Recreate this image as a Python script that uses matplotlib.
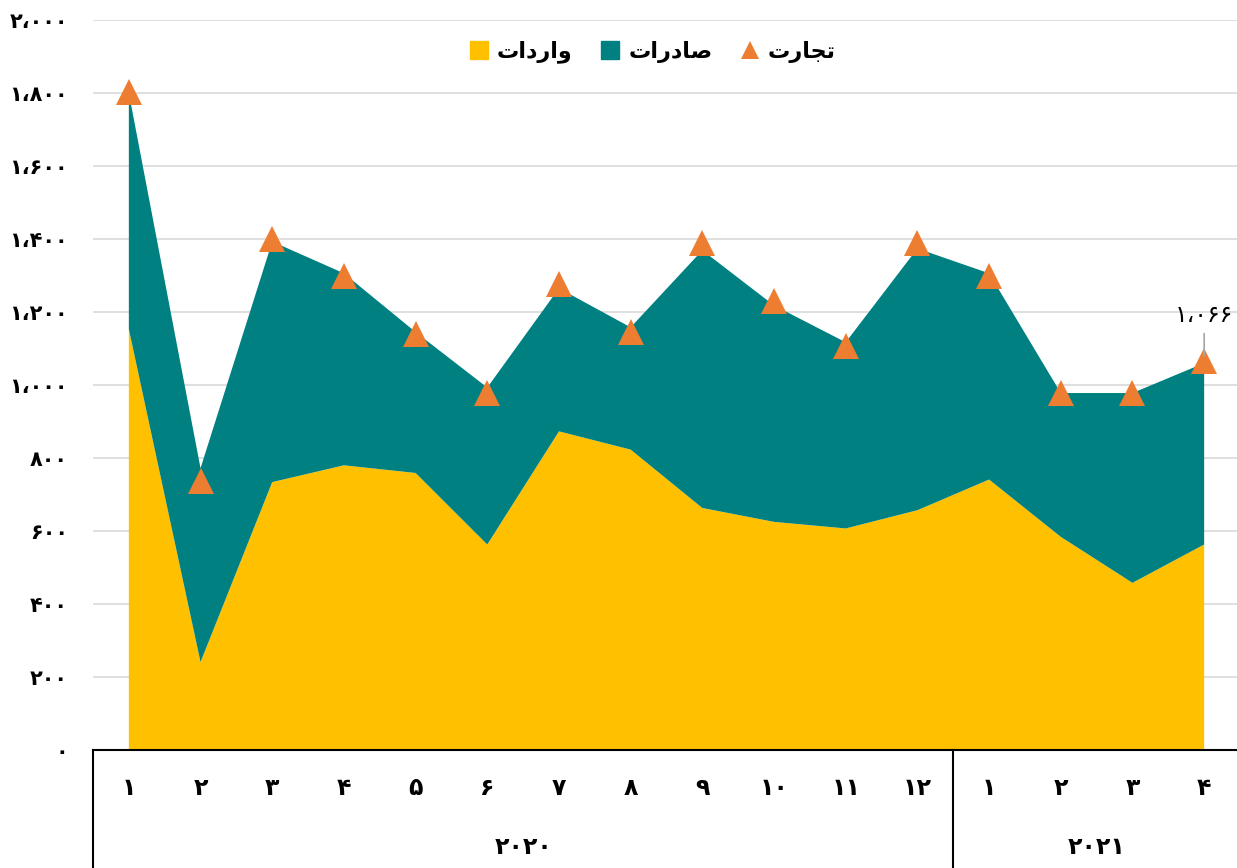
import matplotlib
matplotlib.use("Agg")
import matplotlib.pyplot as plt
from matplotlib.lines import Line2D
import numpy as np

# month numbers (Persian digits) and year groups
months = ["۱", "۲", "۳", "۴", "۵", "۶", "۷", "۸", "۹", "۱۰", "۱۱", "۱۲",
          "۱", "۲", "۳", "۴"]
years = ["۲۰۲۰", "۲۰۲۱"]
year_sizes = [12, 4]

# values
imports = [1153, 241, 734, 780, 759, 563, 873, 823, 663, 625, 607, 657,
           741, 584, 458, 563]
stack_top = [1800, 772, 1393, 1306, 1145, 993, 1265, 1158, 1369, 1218, 1117, 1374,
             1306, 978, 978, 1060]
exports = [t - i for t, i in zip(stack_top, imports)]
trade = [1804, 736, 1400, 1299, 1139, 978, 1278, 1146, 1389, 1229, 1106, 1389,
         1298, 978, 978, 1066]

yticks = [0, 200, 400, 600, 800, 1000, 1200, 1400, 1600, 1800, 2000]
ytick_labels = ["۰", "۲۰۰", "۴۰۰", "۶۰۰", "۸۰۰", "۱،۰۰۰", "۱،۲۰۰", "۱،۴۰۰",
                "۱،۶۰۰", "۱،۸۰۰", "۲،۰۰۰"]
last_label = "۱،۰۶۶"

# legend names, written in visual order (presentation forms, since matplotlib does no shaping)
name_imports = "ﺕﺍﺩﺭﺍﻭ"   # واردات
name_exports = "ﺕﺍﺭﺩﺎﺻ"   # صادرات
name_trade = "ﺕﺭﺎﺠﺗ"      # تجارت

YELLOW = "#FFC000"
TEAL = "#008080"
ORANGE = "#ED7D31"

plt.rcParams['font.family'] = ['DejaVu Sans']

fig = plt.figure(figsize=(12.37, 8.68), dpi=100)
ax = fig.add_axes([93 / 1237, 118 / 868, 1147 / 1237, 730 / 868])

x = np.arange(len(months))
ax.stackplot(x, imports, exports, colors=[YELLOW, TEAL], zorder=2)
ax.plot(x, trade, linestyle='None', marker='^', markersize=19, color=ORANGE,
        markeredgewidth=0, zorder=4)

ax.set_xlim(-0.5, len(months) - 0.5)
ax.set_ylim(0, 2000)
ax.set_yticks(yticks)
ax.set_yticklabels(ytick_labels, fontsize=15, fontweight='bold')
ax.tick_params(axis='y', length=0, pad=18)
ax.set_xticks([])
ax.grid(axis='y', color='#D9D9D9', linewidth=1.2, zorder=0)
ax.set_axisbelow(True)
for s in ['top', 'right', 'left']:
    ax.spines[s].set_visible(False)
ax.spines['bottom'].set_color('black')
ax.spines['bottom'].set_linewidth(1.5)
ax.spines['bottom'].set_zorder(5)

# two-level category axis
trans = ax.get_xaxis_transform()
for xi, m in zip(x, months):
    ax.text(xi, -0.052, m, transform=trans, ha='center', va='center',
            fontsize=17, fontweight='bold')
start = 0
bounds = [-0.5]
for yr, n in zip(years, year_sizes):
    ax.text(start + (n - 1) / 2, -0.133, yr, transform=trans, ha='center',
            va='center', fontsize=17, fontweight='bold')
    start += n
    bounds.append(start - 0.5)
for b in bounds[:-1]:
    ax.plot([b, b], [0, -0.2], transform=trans, color='black', linewidth=1.5,
            clip_on=False, zorder=5)

# label on the last point, with a short vertical leader line
ax.annotate(last_label, xy=(x[-1], 1080), xytext=(x[-1], 1160),
            ha='center', va='bottom', fontsize=17, zorder=5,
            arrowprops=dict(arrowstyle='-', color='#A6A6A6', lw=1.2,
                            shrinkA=3, shrinkB=0))

handles = [
    Line2D([], [], marker='s', linestyle='None', color=YELLOW, markersize=13),
    Line2D([], [], marker='s', linestyle='None', color=TEAL, markersize=13),
    Line2D([], [], marker='^', linestyle='None', color=ORANGE, markersize=13,
           markeredgewidth=0),
]
fig.legend(handles, [name_imports, name_exports, name_trade], ncol=3,
           loc='center', bbox_to_anchor=(0.527, 0.94), frameon=False,
           prop={'size': 16, 'weight': 'bold'}, handletextpad=0.3,
           columnspacing=1.2, handlelength=1.0)

fig.savefig("out.png", dpi=100)
